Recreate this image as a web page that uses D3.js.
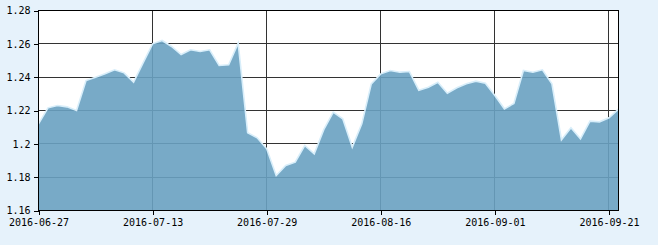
<!DOCTYPE html>
<html>
<head>
<meta charset="utf-8">
<script src="https://cdn.jsdelivr.net/npm/d3@7"></script>
<style>
  html, body { margin: 0; padding: 0; background: #e6f2fb; }
  svg { display: block; }
  .tick text { font-family: "DejaVu Sans Mono", "Liberation Mono", monospace; font-size: 10px; fill: #000; }
</style>
</head>
<body>
<script>
// Trading days shown on the chart
var dates = [
  "2016-06-27", "2016-06-28", "2016-06-29", "2016-06-30", "2016-07-01",
  "2016-07-04", "2016-07-05", "2016-07-06", "2016-07-07", "2016-07-08",
  "2016-07-11", "2016-07-12", "2016-07-13", "2016-07-14", "2016-07-15",
  "2016-07-18", "2016-07-19", "2016-07-20", "2016-07-21", "2016-07-22",
  "2016-07-25", "2016-07-26", "2016-07-27", "2016-07-28", "2016-07-29",
  "2016-08-01", "2016-08-02", "2016-08-03", "2016-08-04", "2016-08-05",
  "2016-08-08", "2016-08-09", "2016-08-10", "2016-08-11", "2016-08-12",
  "2016-08-15", "2016-08-16", "2016-08-17", "2016-08-18", "2016-08-19",
  "2016-08-22", "2016-08-23", "2016-08-24", "2016-08-25", "2016-08-26",
  "2016-08-29", "2016-08-30", "2016-08-31", "2016-09-01", "2016-09-02",
  "2016-09-05", "2016-09-06", "2016-09-07", "2016-09-08", "2016-09-09",
  "2016-09-12", "2016-09-13", "2016-09-14", "2016-09-19", "2016-09-20",
  "2016-09-21", "2016-09-22"
];

// Values
var values = [
  1.212, 1.2216, 1.223, 1.2222, 1.22,
  1.238, 1.24, 1.242, 1.2444, 1.2426,
  1.237, 1.2486, 1.26, 1.262, 1.2584,
  1.2536, 1.2564, 1.2554, 1.2564, 1.247,
  1.2474, 1.2604, 1.2066, 1.2036, 1.197,
  1.181, 1.187, 1.189, 1.199, 1.194,
  1.2085, 1.219, 1.215, 1.198, 1.212,
  1.236, 1.242, 1.244, 1.243, 1.2434,
  1.2322, 1.234, 1.237, 1.2304, 1.2336,
  1.236, 1.2376, 1.2364, 1.229, 1.221,
  1.2242, 1.244, 1.243, 1.2444, 1.236,
  1.2024, 1.2096, 1.203, 1.2136, 1.2132,
  1.2156, 1.2208
];

var xTickLabels = ["2016-06-27", "2016-07-13", "2016-07-29", "2016-08-16", "2016-09-01", "2016-09-21"];
var yTickValues = [1.16, 1.18, 1.2, 1.22, 1.24, 1.26, 1.28];
var yTickLabels = ["1.16", "1.18", "1.2", "1.22", "1.24", "1.26", "1.28"];

var svgWidth = 658;
var svgHeight = 245;

var plot = { left: 38.5, right: 618.5, top: 10.5, bottom: 210.5 };

var svg = d3.select("body")
  .append("svg")
  .attr("width", svgWidth)
  .attr("height", svgHeight);

var data = dates.map(function(d, i) { return { date: d, value: values[i] }; });

var xScale = d3.scalePoint()
  .domain(dates)
  .range([plot.left, plot.right]);

var yScale = d3.scaleLinear()
  .domain([1.16, 1.28])
  .range([plot.bottom, plot.top]);

// plot background
svg.append("rect")
  .attr("x", plot.left)
  .attr("y", plot.top)
  .attr("width", plot.right - plot.left)
  .attr("height", plot.bottom - plot.top)
  .attr("fill", "#fff");

// grid lines
var grid = svg.append("g").attr("shape-rendering", "crispEdges");

grid.selectAll(".hgrid")
  .data(yTickValues)
  .enter()
  .append("line")
  .attr("x1", plot.left)
  .attr("x2", plot.right)
  .attr("y1", d => Math.round(yScale(d) - 0.5) + 0.5)
  .attr("y2", d => Math.round(yScale(d) - 0.5) + 0.5)
  .attr("stroke", "#333");

grid.selectAll(".vgrid")
  .data(xTickLabels)
  .enter()
  .append("line")
  .attr("x1", d => Math.floor(xScale(d)) + 0.5)
  .attr("x2", d => Math.floor(xScale(d)) + 0.5)
  .attr("y1", plot.top)
  .attr("y2", plot.bottom)
  .attr("stroke", "#333");

// area
var area = d3.area()
  .x(d => xScale(d.date))
  .y0(yScale(1.16))
  .y1(d => yScale(d.value));

var line = d3.line()
  .x(d => xScale(d.date))
  .y(d => yScale(d.value));

svg.append("path")
  .datum(data)
  .attr("d", area)
  .attr("fill", "rgb(105,161,193)")
  .attr("fill-opacity", 0.9);

svg.append("path")
  .datum(data)
  .attr("d", line)
  .attr("fill", "none")
  .attr("stroke", "#d8eefa")
  .attr("stroke-width", 1.6);

// border
svg.append("rect")
  .attr("x", plot.left)
  .attr("y", plot.top)
  .attr("width", plot.right - plot.left)
  .attr("height", plot.bottom - plot.top)
  .attr("fill", "none")
  .attr("stroke", "#000")
  .attr("shape-rendering", "crispEdges");

// axes
var leftAxis = d3.axisLeft(yScale)
  .tickValues(yTickValues)
  .tickFormat((d, i) => yTickLabels[i])
  .tickSize(5)
  .tickPadding(3);

var bottomAxis = d3.axisBottom(xScale)
  .tickValues(xTickLabels)
  .tickSize(4)
  .tickPadding(4);

var yAxisG = svg.append("g")
  .attr("transform", "translate(" + plot.left + ",0)")
  .call(leftAxis);

var xAxisG = svg.append("g")
  .attr("transform", "translate(0," + plot.bottom + ")")
  .call(bottomAxis);

[yAxisG, xAxisG].forEach(function(g) {
  g.select(".domain").remove();
  g.selectAll(".tick line").attr("stroke", "#000").attr("shape-rendering", "crispEdges");
  g.attr("font-family", null).attr("font-size", null);
});
</script>
</body>
</html>
